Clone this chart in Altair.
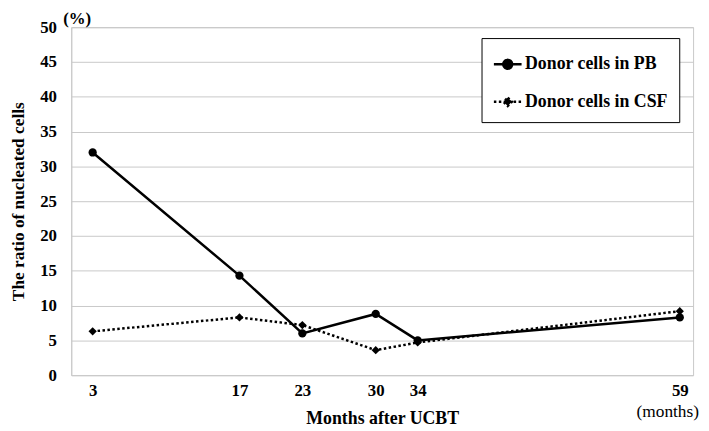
import altair as alt
import pandas as pd

months = [3, 17, 23, 30, 34, 59]
pb_values = [32.0, 14.3, 6.0, 8.8, 5.0, 8.3]
csf_values = [6.3, 8.3, 7.2, 3.6, 4.7, 9.2]
series_names = ["Donor cells in PB", "Donor cells in CSF"]
y_ticks = list(range(0, 51, 5))

rows = []
for m, v in zip(months, pb_values):
    rows.append({"month": m, "value": v, "series": series_names[0]})
for m, v in zip(months, csf_values):
    rows.append({"month": m, "value": v, "series": series_names[1]})
df = pd.DataFrame(rows)

FONT = "Liberation Serif"
GRID = "#c8c8c8"

x_enc = alt.X(
    "month:Q",
    scale=alt.Scale(domain=[0.96, 60.27], nice=False, zero=False),
    axis=alt.Axis(
        values=months, title="Months after UCBT", grid=False, ticks=False,
        domain=False, labelPadding=8, labelFont=FONT, labelFontWeight="bold",
        labelFontSize=17, labelColor="black", labelFlush=False, labelOverlap=False,
        titleFont=FONT, titleFontWeight="bold", titleFontSize=18,
        titleColor="black", titleY=49, titleBaseline="alphabetic",
    ),
)
y_enc = alt.Y(
    "value:Q",
    scale=alt.Scale(domain=[0, 50], nice=False),
    axis=alt.Axis(
        values=y_ticks, title="The ratio of nucleated cells", grid=True,
        gridColor=GRID, gridWidth=1, ticks=False, domainColor=GRID,
        labelPadding=15, labelFont=FONT, labelFontWeight="bold",
        labelFontSize=17, labelColor="black",
        titleFont=FONT, titleFontWeight="bold", titleFontSize=17.5,
        titleColor="black", titleX=-53, titleY=176, titleBaseline="middle",
    ),
)

base = alt.Chart(df)

pb_line = base.transform_filter(alt.datum.series == series_names[0]).mark_line(
    color="black", strokeWidth=2.5
).encode(x=x_enc, y=y_enc)
pb_pts = base.transform_filter(alt.datum.series == series_names[0]).mark_point(
    shape="circle", filled=True, color="black", size=70, opacity=1
).encode(x=x_enc, y=y_enc)
csf_line = base.transform_filter(alt.datum.series == series_names[1]).mark_line(
    color="black", strokeWidth=2.5, strokeDash=[2.5, 2.5]
).encode(x=x_enc, y=y_enc)
csf_pts = base.transform_filter(alt.datum.series == series_names[1]).mark_point(
    shape="diamond", filled=True, color="black", size=70, opacity=1
).encode(x=x_enc, y=y_enc)

pb_path = "M-1,0L1,0M0.32,0A0.32,0.32,0,1,1,-0.32,0A0.32,0.32,0,1,1,0.32,0Z"
csf_path = "M-1,0L1,0M0,-0.3L0.3,0L0,0.3L-0.3,0Z"

legend = alt.Legend(
    title=None, orient="none", legendX=415, legendY=11,
    strokeColor="black", fillColor="white", padding=11,
    labelFont=FONT, labelFontWeight="bold", labelFontSize=18,
    labelColor="black", symbolSize=784, labelOffset=2, rowPadding=13,
    symbolStrokeWidth=2.5,
)

legend_layer = base.transform_filter("false").mark_point(
    filled=True, fill="black", stroke="black", strokeWidth=2.5, opacity=1
).encode(
    x=x_enc, y=y_enc,
    shape=alt.Shape("series:N", scale=alt.Scale(domain=series_names, range=[pb_path, csf_path]), legend=legend),
    strokeDash=alt.StrokeDash("series:N", scale=alt.Scale(domain=series_names, range=[[1, 0], [2.5, 2.5]]), legend=legend),
)

pct_text = alt.Chart(pd.DataFrame({"t": ["(%)"]})).mark_text(
    font=FONT, fontWeight="bold", fontSize=17, color="black", baseline="middle", align="center"
).encode(text="t:N", x=alt.value(6), y=alt.value(-8))

months_text = alt.Chart(pd.DataFrame({"t": ["(months)"]})).mark_text(
    font=FONT, fontSize=17.5, color="black", baseline="middle", align="right"
).encode(text="t:N", x=alt.value(635), y=alt.value(389))

chart = alt.layer(
    pb_line, pb_pts, csf_line, csf_pts, legend_layer, pct_text, months_text
).properties(
    width=629, height=352,
    autosize=alt.AutoSizeParams(type="none"),
    padding={"left": 64, "top": 17, "right": 8, "bottom": 52},
    background="white",
).configure_view(stroke=GRID, strokeWidth=1)

chart.save("out.html", embed_options={"renderer": "svg", "actions": False})
